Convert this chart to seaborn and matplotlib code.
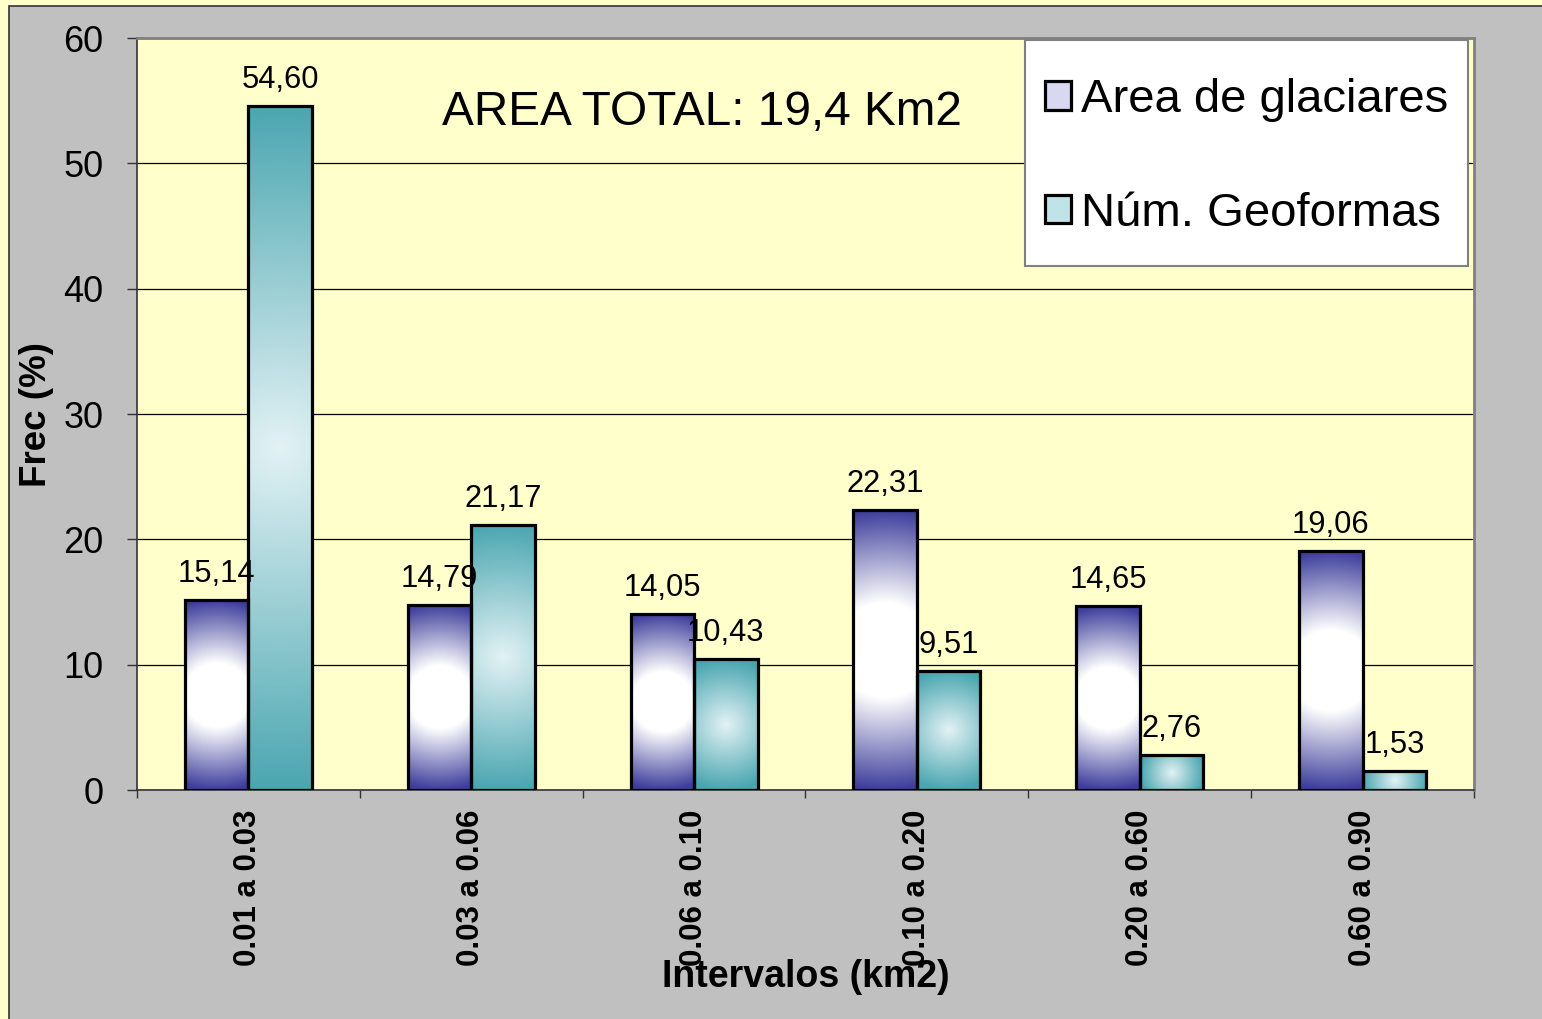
import numpy as np
import pandas as pd
import matplotlib
matplotlib.use("Agg")
import matplotlib.pyplot as plt
from matplotlib.patches import Rectangle, Patch
import seaborn as sns

# ---- data ----
categories = ["0.01 a 0.03", "0.03 a 0.06", "0.06 a 0.10", "0.10 a 0.20", "0.20 a 0.60", "0.60 a 0.90"]
area_glaciares = [15.14, 14.79, 14.05, 22.31, 14.65, 19.06]
num_geoformas = [54.60, 21.17, 10.43, 9.51, 2.76, 1.53]
series_names = ["Area de glaciares", "Núm. Geoformas"]
title_text = "AREA TOTAL: 19,4 Km2"

df = pd.DataFrame({
    "Intervalo": categories * 2,
    "Frec": area_glaciares + num_geoformas,
    "Serie": [series_names[0]] * len(categories) + [series_names[1]] * len(categories),
})

sns.set_theme(style="white")
plt.rcParams["font.family"] = ["Liberation Sans", "DejaVu Sans"]
for key in ["text.color", "axes.labelcolor", "xtick.color", "ytick.color"]:
    plt.rcParams[key] = "black"

W, H = 1542, 1019
fig = plt.figure(figsize=(W / 100, H / 100), dpi=100)
fig.patch.set_facecolor("#FFFFCC")

# gray chart panel
panel = Rectangle((9 / W, -0.01), 1.0, 1 - 6 / H + 0.01, transform=fig.transFigure,
                  facecolor="#C0C0C0", edgecolor="#333333", linewidth=1.2, zorder=-10)
fig.patches.append(panel)

ax = fig.add_axes([137 / W, 1 - 790 / H, (1474 - 137) / W, (790 - 38) / H])
ax.set_facecolor("#FFFFCC")

purple_dark = np.array([0.24, 0.24, 0.61])
teal_dark = np.array([0.29, 0.65, 0.69])
teal_light = np.array([0.89, 0.95, 0.96])

sns.barplot(data=df, x="Intervalo", y="Frec", hue="Serie", order=categories,
            hue_order=series_names, palette=[tuple(purple_dark), tuple(teal_dark)],
            width=0.57, saturation=1, edgecolor="black", linewidth=2.3,
            legend=False, ax=ax, zorder=3)

ax.set_xlim(-0.5, len(categories) - 0.5)
ax.set_ylim(0, 60)
ax.set_yticks(np.arange(0, 61, 10))
ax.yaxis.grid(True, color="black", linewidth=0.9)
ax.set_axisbelow(True)

# gradient fills
def grad_fill(patch, kind):
    x0, y0 = patch.get_x(), patch.get_y()
    w, h = patch.get_width(), patch.get_height()
    p0 = ax.transData.transform((x0, y0))
    p1 = ax.transData.transform((x0 + w, y0 + h))
    pw = max(int(abs(p1[0] - p0[0])), 2)
    ph = max(int(abs(p1[1] - p0[1])), 2)
    yy, xx = np.mgrid[0:ph, 0:pw]
    dx = xx + 0.5 - pw / 2
    dy = yy + 0.5 - ph / 2
    R = max(ph / 2, pw / 2)
    r = np.sqrt(dx ** 2 + dy ** 2) / R
    if kind == 0:
        t = np.clip((r - 0.34) / 0.66, 0, 1)[..., None]
        img = (1 - t) * np.ones(3) + t * purple_dark
    else:
        t = np.clip(r / 1.0, 0, 1)[..., None]
        img = (1 - t) * teal_light + t * teal_dark
    im = ax.imshow(img, extent=(x0, x0 + w, y0, y0 + h), aspect="auto",
                   origin="lower", zorder=2.5, interpolation="bilinear")
    im.set_clip_path(patch)
    patch.set_facecolor("none")

for k, cont in enumerate(ax.containers):
    for p in cont.patches:
        grad_fill(p, k)
ax.set_xlim(-0.5, len(categories) - 0.5)
ax.set_ylim(0, 60)

# data labels
for k, cont in enumerate(ax.containers):
    vals = area_glaciares if k == 0 else num_geoformas
    ax.bar_label(cont, labels=[f"{v:.2f}".replace(".", ",") for v in vals],
                 padding=8, fontsize=22.2, color="black", zorder=5)

# ticks
ax.set_xticks(range(len(categories)))
ax.set_xticklabels(categories, rotation=90, fontsize=22.5, fontweight="bold", va="top")
ax.set_xticks(np.arange(-0.5, len(categories), 1.0), minor=True)
ax.tick_params(axis="x", which="major", length=0, pad=14, colors="black")
ax.tick_params(axis="x", which="minor", length=6, width=1.0, direction="out",
               color="#333333", bottom=True)
ax.tick_params(axis="y", which="major", length=7, width=1.0, direction="out",
               color="#333333", labelsize=26, pad=17, left=True)

ax.set_xlabel("Intervalos (km2)", fontsize=27, fontweight="bold")
ax.xaxis.set_label_coords(0.5, (790 - 977) / 752)
ax.xaxis.label.set_verticalalignment("center")
ax.set_ylabel("Frec (%)", fontsize=26.5, fontweight="bold")
ax.yaxis.set_label_coords((37 - 137) / 1337, 0.5)
ax.yaxis.label.set_verticalalignment("center")

for s in ["left", "bottom"]:
    ax.spines[s].set_color("#333333")
    ax.spines[s].set_linewidth(1.2)
for s in ["top", "right"]:
    ax.spines[s].set_color("#808080")
    ax.spines[s].set_linewidth(2.0)

ax.text((702 - 137) / 1337, (790 - 112) / 752, title_text, transform=ax.transAxes,
        ha="center", va="center", fontsize=34.4, color="black", zorder=6)

# legend frame and legend
frame = Rectangle((1025 / W, 1 - 266 / H), (1468 - 1025) / W, (266 - 40) / H,
                  transform=fig.transFigure, facecolor="white", edgecolor="#808080",
                  linewidth=1.5, zorder=5)
fig.patches.append(frame)
handles = [Patch(facecolor="#D8D8F0", edgecolor="black", linewidth=2.3),
           Patch(facecolor="#BFE3E6", edgecolor="black", linewidth=2.3)]
leg = fig.legend(handles, series_names, loc="upper left",
                 bbox_to_anchor=(1045 / W, 1 - 78 / H), bbox_transform=fig.transFigure,
                 fontsize=34, handlelength=0.55, handleheight=0.55, handletextpad=0.22,
                 labelspacing=1.48, borderpad=0, borderaxespad=0, frameon=False)
leg.set_zorder(6)

fig.savefig("out.png", dpi=100, facecolor=fig.get_facecolor())
